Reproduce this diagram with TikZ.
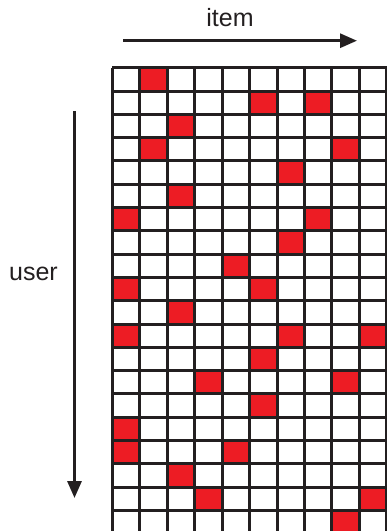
\documentclass[tikz,border=0pt]{standalone}
\usepackage{fontspec}
\setmainfont{Liberation Sans}
\usepackage{xcolor}
\usetikzlibrary{arrows.meta}

\definecolor{gridline}{HTML}{231F20}
\definecolor{hitred}{HTML}{ED1C24}

\begin{document}
\begin{tikzpicture}[
    x=1pt, y=-1pt,
    every node/.style={font=\fontsize{25}{30}\selectfont, inner sep=0pt},
    axislabel/.style={anchor=base, text=gridline},
    axisarrow/.style={-{Triangle[length=17pt, width=14pt]}, line width=3pt, draw=gridline},
    cellline/.style={line width=3pt, draw=gridline},
    hitcell/.style={fill=hitred}
]
\clip (0,0) rectangle (387,531);

% Labels
\node (item) [axislabel] at (230,26.7) {item};
\node (user) [axislabel] at (33.5,280) {user};

% Axis arrows
\coordinate (itemstart) at (123,40.7);
\coordinate (itemend) at (357,40.7);
\coordinate (userstart) at (74.5,111);
\coordinate (userend) at (74.5,498);
\draw [axisarrow] (itemstart) -- (itemend);
\draw [axisarrow] (userstart) -- (userend);

% Rating matrix
\begin{scope}[shift={(112.3,67.7)}, x=27.45pt, y=-23.3pt]
  \foreach \c/\r in {1/0, 5/1, 7/1, 2/2, 1/3, 8/3, 6/4, 2/5, 0/6, 7/6,
                     6/7, 4/8, 0/9, 5/9, 2/10, 0/11, 6/11, 9/11, 5/12,
                     3/13, 8/13, 5/14, 0/15, 0/16, 4/16, 2/17, 3/18, 9/18, 8/19}
    \fill [hitcell] (\c,\r) rectangle ++(1,1);
  \foreach \c in {0,...,11}
    \draw [cellline] (\c,0) -- (\c,21);
  \foreach \r in {0,...,21}
    \draw [cellline] (0,\r) -- (11,\r);
\end{scope}

\end{tikzpicture}
\end{document}
